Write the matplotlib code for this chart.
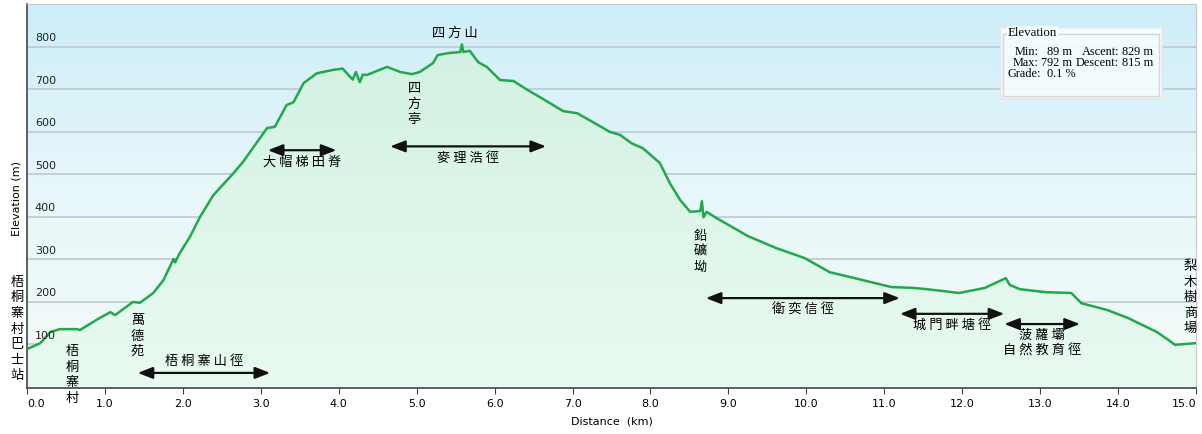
import numpy as np
import matplotlib.pyplot as plt
from matplotlib.patches import Rectangle
from matplotlib.colors import LinearSegmentedColormap

# elevation profile (km, m)
dist_km = [0.00, 0.17, 0.30, 0.42, 0.64, 0.68, 0.94, 1.07, 1.13, 1.36, 1.45, 1.62,
           1.75, 1.88, 1.90, 1.96, 2.09, 2.22, 2.39, 2.65, 2.77, 3.08, 3.18, 3.33,
           3.42, 3.55, 3.72, 3.93, 4.05, 4.11, 4.18, 4.22, 4.27, 4.31, 4.36, 4.62,
           4.79, 4.94, 5.04, 5.21, 5.27, 5.43, 5.56, 5.58, 5.60, 5.68, 5.79, 5.90,
           6.07, 6.24, 6.42, 6.58, 6.88, 7.06, 7.31, 7.48, 7.61, 7.76, 7.90, 8.12,
           8.25, 8.38, 8.51, 8.64, 8.66, 8.68, 8.72, 8.85, 9.25, 9.61, 9.98, 10.30,
           10.62, 11.09, 11.37, 11.55, 11.96, 12.29, 12.56, 12.61, 12.74, 13.07,
           13.40, 13.53, 13.86, 14.13, 14.50, 14.65, 14.73, 15.00]
elev_m = [88, 102, 128, 135, 135, 133, 162, 175, 168, 199, 197, 220,
          250, 300, 292, 314, 352, 399, 450, 502, 528, 608, 611, 662,
          669, 714, 737, 745, 748, 736, 722, 740, 716, 734, 733, 752,
          740, 735, 740, 761, 780, 785, 787, 805, 787, 790, 763, 752,
          721, 719, 698, 681, 648, 643, 617, 599, 592, 572, 561, 526,
          478, 439, 411, 413, 436, 398, 411, 396, 354, 326, 302, 269,
          255, 234, 232, 229, 220, 232, 255, 239, 229, 222,
          220, 196, 180, 161, 128, 109, 98, 102]

# place names (vertical text): label, km, elevation of first character
places = ["四方亭", "鉛礦坳", "萬德苑", "梧桐寨村", "梨木樹商場"]
places_km = [4.97, 8.64, 1.42, 0.58, 15.0]
places_top = [716, 369, 171, 97, 297]

# trails: label, start km, end km, arrow elevation
trails = ["梧桐寨山徑", "大帽梯田脊", "麥理浩徑", "衛奕信徑", "城門畔塘徑", "菠蘿壩\n自然教育徑"]
trail_start = [1.42, 3.09, 4.66, 8.71, 11.20, 12.54]
trail_end = [3.12, 3.97, 6.66, 11.20, 12.54, 13.51]
trail_elev = [32, 556, 565, 208, 171, 147]

yticks = [100, 200, 300, 400, 500, 600, 700, 800]
xticks = np.arange(0, 16, 1)

W, H = 1202, 434
cjk = ['Noto Sans CJK TC', 'DejaVu Sans']

fig = plt.figure(figsize=(W / 100, H / 100), dpi=100)
ax = fig.add_axes([27 / W, 46 / H, 1169 / W, 384 / H])
x0, x1, y0, y1 = 0, 15, -3.5, 900
ax.set_xlim(x0, x1)
ax.set_ylim(y0, y1)

# background gradient
bg = LinearSegmentedColormap.from_list('bg', ['#f2fbf8', '#e8f7fa', '#cdeef9'])
ax.imshow(np.linspace(0, 1, 256).reshape(-1, 1), cmap=bg, origin='lower',
          extent=[x0, x1, y0, y1], aspect='auto', zorder=0)

for v in yticks:
    ax.axhline(v, color='#c0c8ce', lw=1.2, zorder=1)
    ax.text(0.1, v + 19, str(v), fontsize=8, color='#222222', va='center', zorder=5)

# green gradient fill under the line
poly = ax.fill_between(dist_km, elev_m, y0, color='none', zorder=2)
gr = LinearSegmentedColormap.from_list('gr', ['#e9faf1', '#d3f2e3'])
im = ax.imshow(np.linspace(0, 1, 256).reshape(-1, 1), cmap=gr, origin='lower',
               extent=[x0, x1, y0, 800], aspect='auto', zorder=2)
im.set_clip_path(poly.get_paths()[0], transform=ax.transData)
ax.plot(dist_km, elev_m, color='#22a84a', lw=1.8, zorder=4)

# spines and ticks
for s in ['top', 'right']:
    ax.spines[s].set_color('#c8c8c8')
for s in ['left', 'bottom']:
    ax.spines[s].set_color('#444444')
    ax.spines[s].set_linewidth(1.2)
ax.set_yticks([])
ax.set_xticks(xticks)
ax.set_xticklabels(['%.1f' % t for t in xticks], fontsize=8)
ax.tick_params(axis='x', length=4, color='#444444', pad=4)
labs = ax.get_xticklabels()
labs[0].set_horizontalalignment('left')
labs[-1].set_horizontalalignment('right')
ax.set_xlabel('Distance  (km)', fontsize=8, labelpad=5)
fig.text(17 / W, 1 - 198 / H, 'Elevation (m)', rotation=90, fontsize=8,
         ha='center', va='center')

# peak label
ax.text(5.49, 832, '四 方 山', fontsize=9.5, family=cjk, ha='center', va='center', zorder=6)

for name, km, top in zip(places, places_km, places_top):
    xx = km
    if km >= 15:
        xx = 14.93
    ax.text(xx, top, '\n'.join(name), fontsize=9.5, family=cjk, ha='center', va='top',
            linespacing=1.25, zorder=6)

fig.text(17 / W, 1 - 276 / H, '\n'.join('梧桐寨村巴士站'), fontsize=9.5, family=cjk,
         ha='center', va='top', linespacing=1.25)

for name, a, b, e in zip(trails, trail_start, trail_end, trail_elev):
    ax.annotate('', xy=(a, e), xytext=(b, e),
                arrowprops=dict(arrowstyle='<|-|>,head_length=0.9,head_width=0.35',
                                color='#111111', lw=1.6, shrinkA=0, shrinkB=0),
                zorder=6)
    lbl = name.split('\n')
    lbl = '\n'.join(' '.join(part) for part in lbl)
    if a < 2:
        ax.text((a + b) / 2, e + 12, lbl, fontsize=9.5, family=cjk, ha='center',
                va='bottom', zorder=6)
    else:
        ax.text((a + b) / 2, e - 12, lbl, fontsize=9.5, family=cjk, ha='center',
                va='top', linespacing=1.2, zorder=6)

# stats box
def px(x, y):
    return x / W, 1 - y / H

fig.patches.append(Rectangle(px(1000, 98), 162 / W, 71 / H, transform=fig.transFigure,
                             facecolor='#f6fdff', edgecolor='#e4e4e4', lw=1, alpha=0.9))
fig.patches.append(Rectangle(px(1003, 96), 156 / W, 62 / H, transform=fig.transFigure,
                             facecolor='none', edgecolor='#d6d6d6', lw=1))
serif = 'Liberation Serif'
fs = 8.8
fig.text(*px(1008, 33), 'Elevation', fontsize=9.3, family=serif, va='center',
         bbox=dict(facecolor='#f6fdff', edgecolor='none', pad=0.5))
rows = [(52, 'Min:', '89 m', 'Ascent:', '829 m'),
        (63, 'Max:', '792 m', 'Descent:', '815 m')]
for y, a, b, c, d in rows:
    fig.text(*px(1039, y), a, fontsize=fs, family=serif, ha='right', va='center')
    fig.text(*px(1072, y), b, fontsize=fs, family=serif, ha='right', va='center')
    fig.text(*px(1119, y), c, fontsize=fs, family=serif, ha='right', va='center')
    fig.text(*px(1153, y), d, fontsize=fs, family=serif, ha='right', va='center')
fig.text(*px(1007, 74), 'Grade:', fontsize=fs, family=serif, va='center')
fig.text(*px(1047, 74), '0.1 %', fontsize=fs, family=serif, va='center')

fig.savefig('out.png', dpi=100)
